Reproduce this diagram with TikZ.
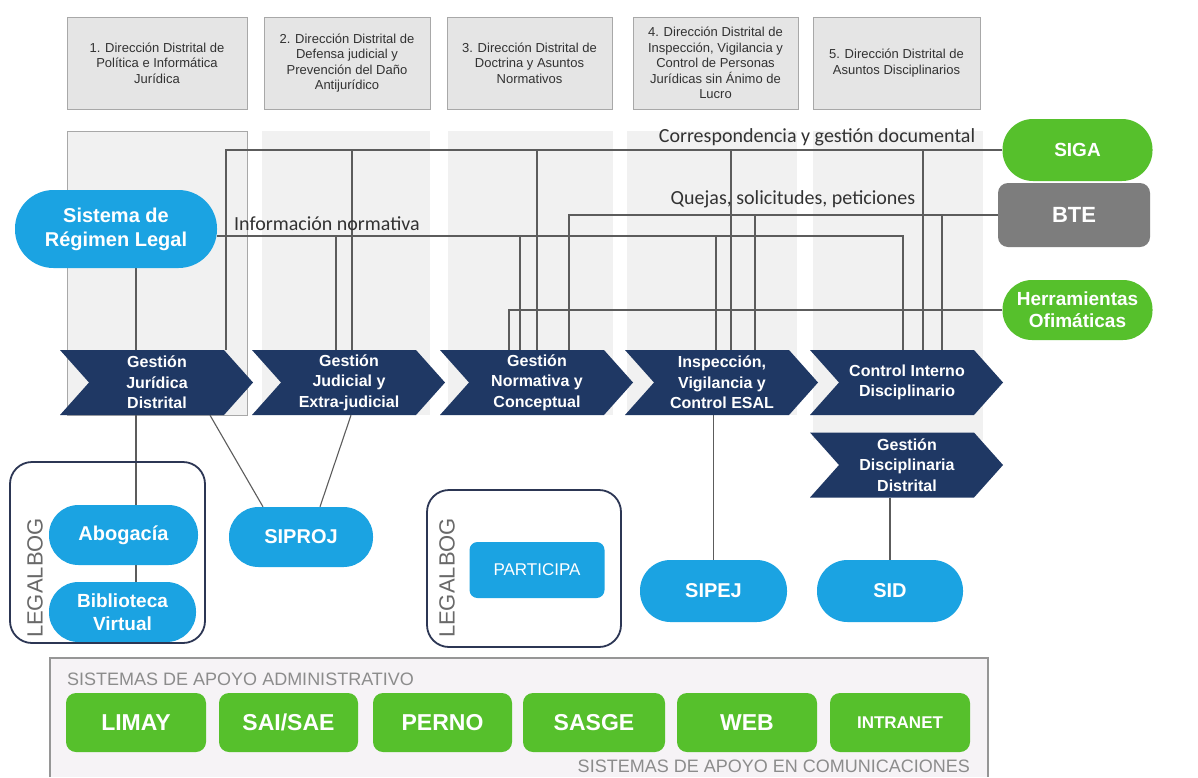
\documentclass[tikz,border=0pt]{standalone}
\usepackage{fontspec}
\setmainfont{Liberation Sans}
\newfontfamily\lblfont{Carlito}
\usetikzlibrary{calc}
\definecolor{navy}{RGB}{31,56,100}
\definecolor{sysblue}{RGB}{27,163,226}
\definecolor{sysgreen}{RGB}{86,192,44}
\definecolor{btegray}{RGB}{125,125,125}
\definecolor{panelc}{RGB}{241,241,241}
\definecolor{topfill}{RGB}{229,229,229}
\definecolor{topedge}{RGB}{168,168,168}
\definecolor{linec}{RGB}{92,92,92}
\definecolor{legalc}{RGB}{44,54,84}
\definecolor{legaltext}{RGB}{105,105,105}
\definecolor{bottomfill}{RGB}{246,243,246}
\definecolor{bottomedge}{RGB}{150,150,150}
\definecolor{bottomtext}{RGB}{140,140,140}
\definecolor{darktext}{RGB}{50,50,50}
\pgfdeclarelayer{back}
\pgfdeclarelayer{mid}
\pgfsetlayers{back,mid,main}
\newcommand{\fsz}[2]{\fontsize{#1}{#2}\selectfont}
\newcommand{\drawchev}[4]{%
  \fill[navy] (#2-97,#3-32.5) -- ++(164,0) -- ++(29,32.5) -- ++(-29,32.5) -- ++(-164,0) -- ++(29,-32.5) -- cycle;
  \node[chevtext] (#1) at (#2,#3) {#4};}
\tikzset{
  conn/.style={draw=linec, line width=1.1pt},
  topbox/.style={draw=topedge, fill=topfill, line width=0.8pt, minimum height=92pt, align=center, font=\fsz{13}{15.5}, text=darktext, inner sep=2pt},
  chevtext/.style={minimum height=65pt, minimum width=150pt, inner sep=0pt, align=center, text=white, font=\bfseries\fsz{16}{20.5}},
  pill/.style={rectangle, rounded corners=#1, fill=sysblue, text=white, align=center, inner sep=0pt, font=\bfseries\fsz{20}{24}},
  gpill/.style={pill=#1, fill=sysgreen, font=\bfseries\fsz{19}{22}},
  sysbox/.style={rectangle, rounded corners=10pt, fill=sysgreen, text=white, inner sep=0pt, minimum height=59pt, font=\bfseries\fsz{23}{26}},
  legalbox/.style={draw=legalc, line width=1.8pt, rounded corners=22pt, inner sep=0pt},
  legaltag/.style={rotate=90, text=legaltext, font=\fsz{22}{24}, inner sep=0pt},
  lbl/.style={text=darktext, font=\lblfont\fsz{20}{24}, inner sep=0pt},
  grouplbl/.style={text=bottomtext, font=\fsz{18}{20}, inner sep=0pt}
}
\begin{document}
\begin{tikzpicture}[x=1pt,y=-1pt]
\useasboundingbox (0,0) rectangle (1198,777);

% background and column panels
\begin{pgfonlayer}{back}
\fill[white] (0,0) rectangle (1198,777);
\fill[panelc] (67,131) rectangle (247,415);
\draw[topedge, line width=0.8pt] (67,131) rectangle (247,415);
\fill[panelc] (262,131) rectangle (430,415);
\fill[panelc] (448,131) rectangle (613,415);
\fill[panelc] (627,131) rectangle (797,415);
\fill[panelc] (813,131) rectangle (983,440);
\end{pgfonlayer}

% top direction boxes
\node[topbox, minimum width=180pt] (d1) at (157,63) {1. Dirección Distrital de\\Política e Informática\\Jurídica};
\node[topbox, minimum width=166pt] (d2) at (347,63) {2. Dirección Distrital de\\Defensa judicial y\\Prevención del Daño\\Antijurídico};
\node[topbox, minimum width=165pt] (d3) at (529.5,63) {3. Dirección Distrital de\\Doctrina y Asuntos\\Normativos};
\node[topbox, minimum width=165pt] (d4) at (715.5,63) {4. Dirección Distrital de\\Inspección, Vigilancia y\\Control de Personas\\Jurídicas sin Ánimo de\\Lucro};
\node[topbox, minimum width=167pt] (d5) at (896.5,63) {5. Dirección Distrital de\\Asuntos Disciplinarios};

% process chevrons
\drawchev{ch1}{157}{382.5}{Gestión\\Jurídica\\Distrital}
\drawchev{ch2}{349}{382.5}{Gestión\\Judicial y\\Extra-judicial}
\drawchev{ch3}{537}{382.5}{Gestión\\Normativa y\\Conceptual}
\drawchev{ch4}{722}{382.5}{Inspección,\\Vigilancia y\\Control ESAL}
\drawchev{ch5}{907}{382.5}{Control Interno\\Disciplinario}
\drawchev{gd}{907}{465}{Gestión\\Disciplinaria\\Distrital}

% transversal systems
\node[pill=38.5pt, minimum width=202pt, minimum height=78pt] (srl) at (116,229) {Sistema de\\Régimen Legal};
\node[gpill=30.5pt, minimum width=150pt, minimum height=62pt] (siga) at (1077.5,150) {SIGA};
\node[rectangle, rounded corners=10pt, fill=btegray, text=white, minimum width=152pt, minimum height=64pt, font=\bfseries\fsz{22}{24}] (bte) at (1074,215) {BTE};
\node[gpill=29.5pt, minimum width=150pt, minimum height=60pt] (herr) at (1077.5,310) {Herramientas\\Ofimáticas};

% line labels
\node[lbl] (lcorr) at (817,137) {Correspondencia y gestión documental};
\node[lbl] (lquej) at (793,199) {Quejas, solicitudes, peticiones};
\node[lbl] (linfo) at (327,224) {Información normativa};

% lower systems
\node[pill=29.5pt, minimum width=149pt, minimum height=60pt] (abog) at (123.5,535) {Abogacía};
\node[pill=29.5pt, minimum width=147pt, minimum height=60pt, font=\bfseries\fsz{19}{23}] (bib) at (122.5,612) {Biblioteca\\Virtual};
\node[pill=29.5pt, minimum width=144pt, minimum height=60pt] (siproj) at (301,537) {SIPROJ};
\node[rectangle, rounded corners=8pt, fill=sysblue, text=white, minimum width=135pt, minimum height=56pt, font=\fsz{17}{20}] (participa) at (537,570) {PARTICIPA};
\node[pill=30.5pt, minimum width=147pt, minimum height=62pt] (sipej) at (713.5,591) {SIPEJ};
\node[pill=30.5pt, minimum width=146pt, minimum height=62pt] (sid) at (890,591) {SID};

% LEGALBOG groups
\node[legalbox, minimum width=195pt, minimum height=181pt] (lb1) at (107.5,552.5) {};
\node[legaltag] (lt1) at (35,578) {LEGALBOG};
\node[legalbox, minimum width=194pt, minimum height=157pt] (lb2) at (524,568.5) {};
\node[legaltag] (lt2) at (447,578) {LEGALBOG};

% connectors
\coordinate (infoy) at ([yshift=-7pt]srl.east);
\coordinate (srlx) at ([xshift=20pt]srl.south);
\begin{pgfonlayer}{mid}
\draw[conn] (siga.west) -| ([xshift=69pt]ch1.north);
\draw[conn] ([xshift=3pt]ch2.north) |- (siga.west);
\draw[conn] (ch3.north) |- (siga.west);
\draw[conn] ([xshift=9pt]ch4.north) |- (siga.west);
\draw[conn] ([xshift=16pt]ch5.north) |- (siga.west);
\draw[conn] (bte.west) -| ([xshift=32pt]ch3.north);
\draw[conn] ([xshift=33pt]ch4.north) |- (bte.west);
\draw[conn] ([xshift=35pt]ch5.north) |- (bte.west);
\draw[conn] (infoy) -| ([xshift=-4pt]ch5.north);
\draw[conn] ([xshift=-13pt]ch2.north) |- (infoy);
\draw[conn] ([xshift=-17pt]ch3.north) |- (infoy);
\draw[conn] ([xshift=-6pt]ch4.north) |- (infoy);
\draw[conn] (herr.west) -| ([xshift=-28pt]ch3.north);
\draw[conn] (srlx) -- (srlx |- bib.north);
\draw[conn] ([xshift=53pt]ch1.south) -- ([xshift=-38pt]siproj.north);
\draw[conn] ([xshift=2pt]ch2.south) -- ([xshift=19pt]siproj.north);
\draw[conn] (sipej.north |- ch4.south) -- (sipej.north);
\draw[conn] (sid.north |- gd.south) -- (sid.north);
\end{pgfonlayer}

% support systems panel
\fill[bottomfill] (50,658) rectangle (988,777);
\draw[bottomedge, line width=1.2pt] (50,777) -- (50,658) -- (988,658) -- (988,777);
\node[grouplbl, anchor=west] (ga) at (67,679) {SISTEMAS DE APOYO ADMINISTRATIVO};
\node[grouplbl, anchor=east] (gc) at (970,766) {SISTEMAS DE APOYO EN COMUNICACIONES};
\node[sysbox, minimum width=140pt] (limay) at (136,722.5) {LIMAY};
\node[sysbox, minimum width=139pt] (sai) at (288.5,722.5) {SAI/SAE};
\node[sysbox, minimum width=139pt] (perno) at (442.5,722.5) {PERNO};
\node[sysbox, minimum width=142pt] (sasge) at (594,722.5) {SASGE};
\node[sysbox, minimum width=140pt] (web) at (747,722.5) {WEB};
\node[sysbox, minimum width=140pt, font=\bfseries\fsz{17}{20}] (intranet) at (900,722.5) {INTRANET};
\end{tikzpicture}
\end{document}
